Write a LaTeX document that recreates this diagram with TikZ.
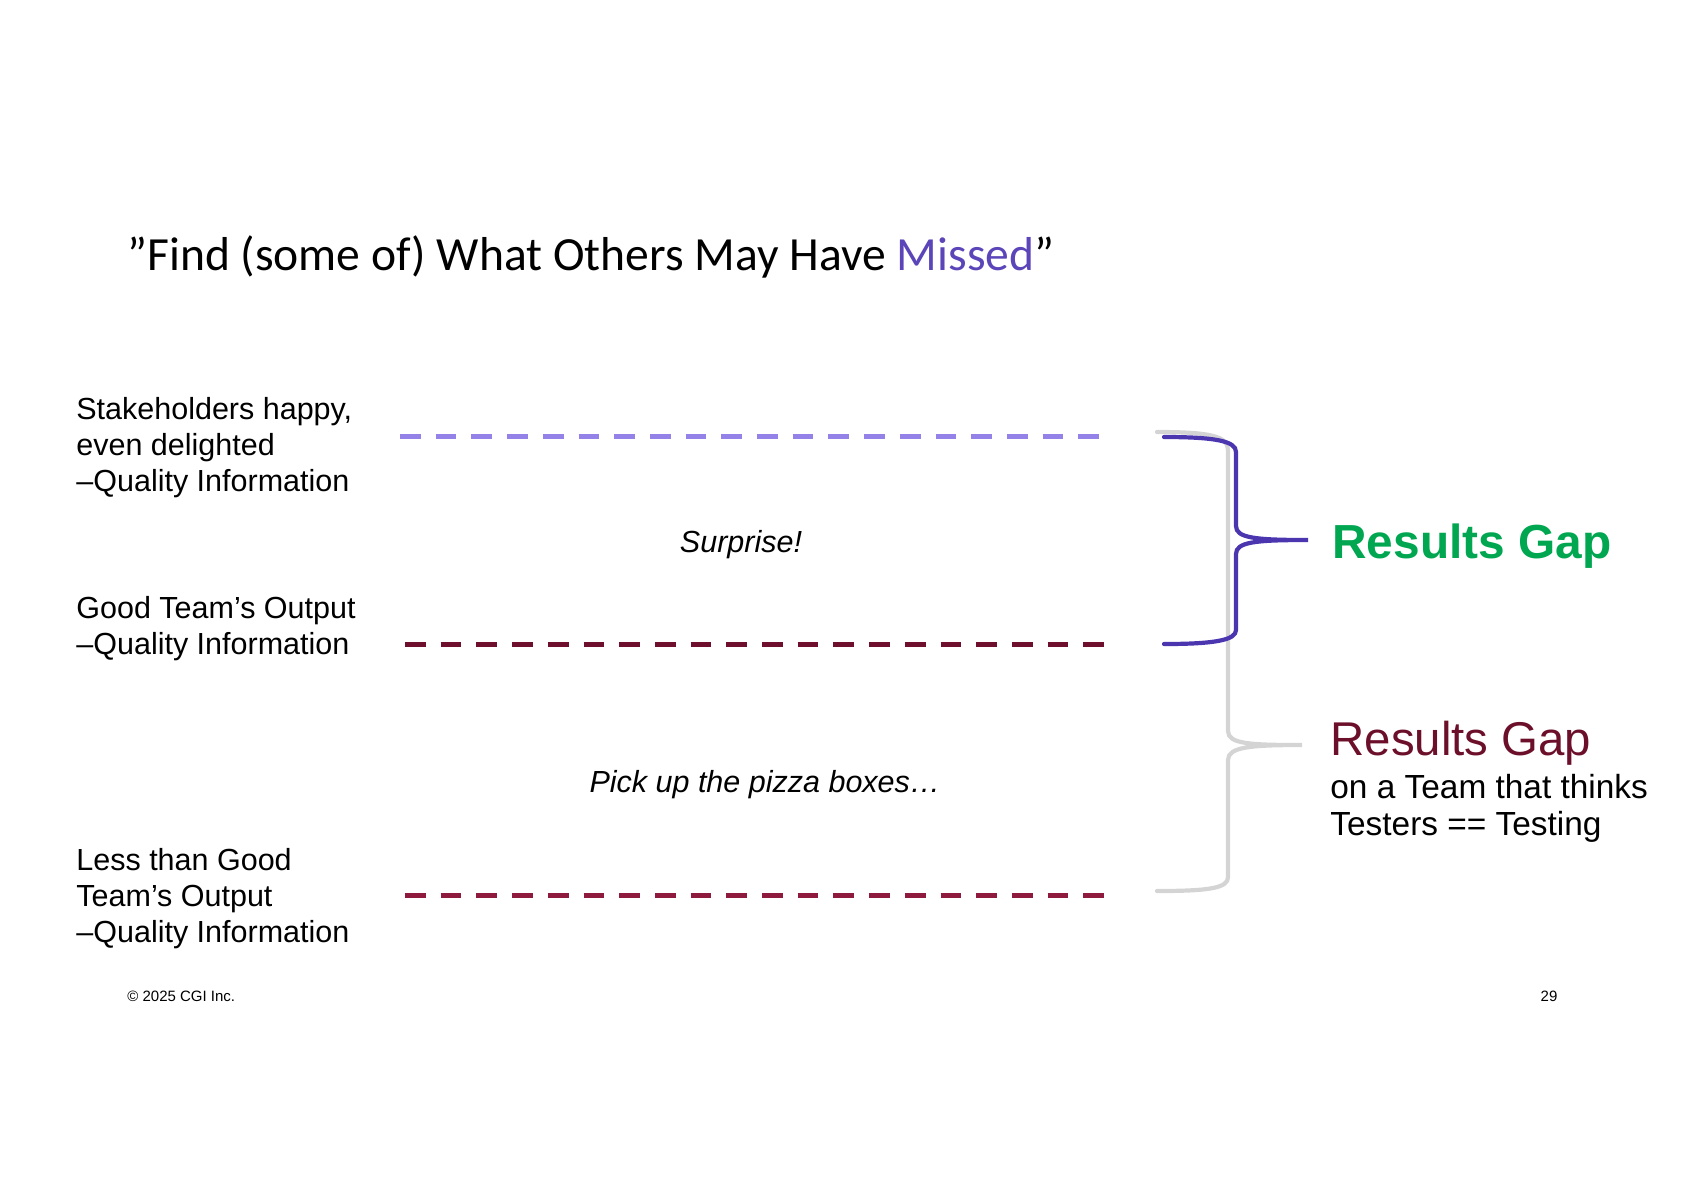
\documentclass[tikz,border=0pt]{standalone}
\usepackage{fontspec}
\setmainfont{Liberation Sans}
\newfontfamily\titlefont{Carlito}
\usetikzlibrary{positioning}

\definecolor{lavender}{HTML}{9482E8}
\definecolor{darkwine}{HTML}{6E0F2D}
\definecolor{crimson}{HTML}{8E1B3E}
\definecolor{bracepurple}{HTML}{4B36B0}
\definecolor{bracegrey}{HTML}{D4D4D4}
\definecolor{gapgreen}{HTML}{00A650}
\definecolor{gapmaroon}{HTML}{6B0F2A}
\definecolor{missed}{HTML}{5B45B8}

\begin{document}
\begin{tikzpicture}[
  x=0.5pt, y=-0.5pt,
  lbl/.style={anchor=base west, inner sep=0pt, align=left, font=\fontsize{15.25}{18}\selectfont},
  note/.style={anchor=base, inner sep=0pt, font=\fontsize{15.25}{18}\selectfont\itshape},
  level/.style={line width=2.5pt, dash pattern=on 10.35pt off 7.5pt},
  lshadow/.style={level, draw=black!15, yshift=-1.5pt},
  brace/.style={line width=2.1pt, line cap=round},
  small/.style={anchor=base, inner sep=0pt, font=\fontsize{7.5}{9}\selectfont}
]
\useasboundingbox (0,0) rectangle (1684,1190);

% title
\node[anchor=base west, inner sep=0pt, font=\titlefont\fontsize{23.8}{28}\selectfont] (title) at (127,270)
  {”Find (some of) What Others May Have \textcolor{missed}{Missed}”};

% quality levels (base = last line)
\node[lbl] (happy) at (76,491) {Stakeholders happy,\\even delighted\\–Quality Information};
\node[lbl] (good) at (76,654) {Good Team’s Output\\–Quality Information};
\node[lbl] (less) at (76,942) {Less than Good\\Team’s Output\\–Quality Information};

\coordinate (happy-l) at (400,436);
\coordinate (happy-r) at (1102,436);
\coordinate (good-l) at (405,644);
\coordinate (good-r) at (1107,644);
\coordinate (less-l) at (405,895);
\coordinate (less-r) at (1107,895);

\draw[lshadow] (happy-l) -- (happy-r);
\draw[lshadow] (good-l) -- (good-r);
\draw[lshadow] (less-l) -- (less-r);
\draw[level, lavender] (happy-l) -- (happy-r);
\draw[level, darkwine] (good-l) -- (good-r);
\draw[level, crimson] (less-l) -- (less-r);

\node[note] (surprise) at (741,552) {Surprise!};
\node[note] (pizza) at (765,792) {Pick up the pizza boxes…};

% braces
\coordinate (tipA) at (1308,540);
\coordinate (tipB) at (1302,745);
\draw[brace, bracegrey] (1157,432) .. controls (1210,432) and (1228,436) .. (1228,450)
  -- (1228,731) .. controls (1228,744) and (1250,745) .. (tipB)
  .. controls (1250,745) and (1228,747) .. (1228,760)
  -- (1228,877) .. controls (1228,888) and (1210,891) .. (1157,891);
\draw[brace, bracepurple] (1164,437) .. controls (1215,437) and (1236,441) .. (1236,452)
  -- (1236,526) .. controls (1236,538) and (1255,540) .. (tipA)
  .. controls (1255,540) and (1236,542) .. (1236,554)
  -- (1236,630) .. controls (1236,640) and (1215,644) .. (1164,644);

\node[anchor=base west, inner sep=0pt, text=gapgreen, font=\bfseries\fontsize{23.9}{28}\selectfont] (gapA) at (1332,558) {Results Gap};
\node[anchor=base west, inner sep=0pt, text=gapmaroon, font=\fontsize{23.7}{28}\selectfont] (gapB) at (1330,755) {Results Gap};
\node[anchor=base west, inner sep=0pt, align=left, font=\fontsize{16.7}{18.5}\selectfont] (team) at (1330,835)
  {on a Team that thinks\\Testers == Testing};

% footer
\node[small, anchor=base west] (copy) at (127,1001) {© 2025 CGI Inc.};
\node[small] (page) at (1549,1001) {29};
\end{tikzpicture}
\end{document}
